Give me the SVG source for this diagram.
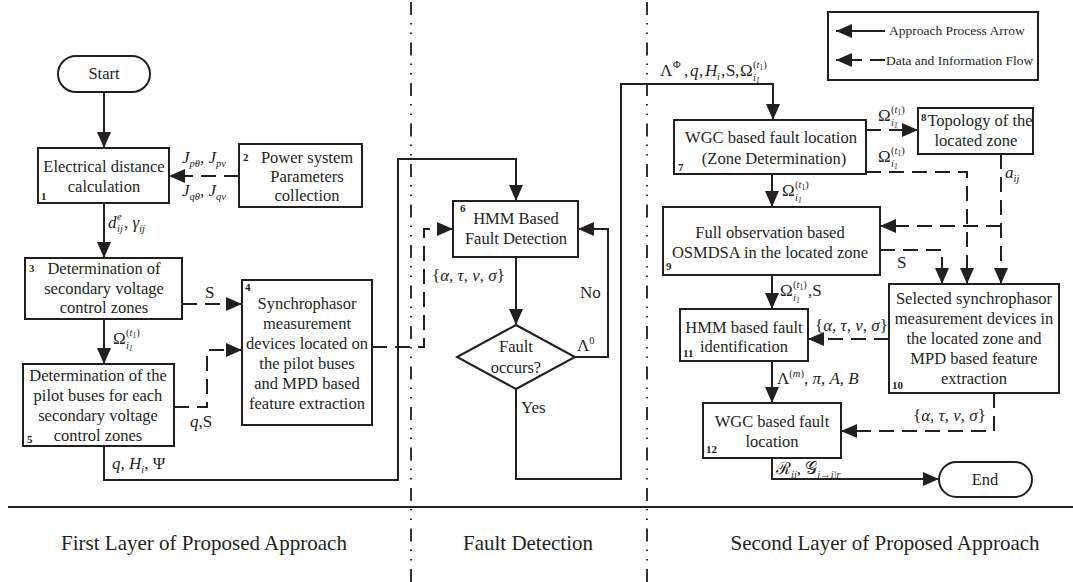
<svg xmlns="http://www.w3.org/2000/svg" width="1073" height="582" viewBox="0 0 1073 582">
<defs>
<style>
.bx{fill:#fff;stroke:#231f20;stroke-width:2}
.ln{fill:none;stroke:#231f20;stroke-width:2}
.ar{marker-end:url(#ah)}
.da{stroke-dasharray:15 8}
.dd{fill:none;stroke:#231f20;stroke-width:1.8;stroke-dasharray:13 8 1.5 8 1.5 8.5;stroke-dashoffset:-2}
text{font-family:"Liberation Serif","Times New Roman",serif;fill:#231f20}
.t{font-size:16.5px;text-anchor:middle}
.m{font-size:17px}
.i{font-style:italic}
.s{font-size:10.5px}
.xs{font-size:7.5px}
.n{font-size:11px;font-weight:bold}
.lg{font-size:13.5px}
.cap{font-size:21px;text-anchor:middle}
</style>
<marker id="ah" markerUnits="userSpaceOnUse" markerWidth="16" markerHeight="14" refX="16" refY="7" orient="auto"><path d="M0,0 L16,7 L0,14 z" fill="#231f20"/></marker>
</defs>
<rect width="1073" height="582" fill="#fff"/>

<g id="layout">
<line class="dd" x1="411" y1="0" x2="411" y2="582"/>
<line class="dd" x1="647" y1="0" x2="647" y2="582"/>
<line class="ln" x1="8" y1="507" x2="1073" y2="507"/>
<text class="cap" x="204" y="550">First Layer of Proposed Approach</text>
<text class="cap" x="528" y="550">Fault Detection</text>
<text class="cap" x="885" y="550">Second Layer of Proposed Approach</text>
</g>

<g id="legend">
<rect class="bx" x="828" y="12" width="210" height="68"/>
<path class="ln ar" d="M885,31 H836"/>
<path class="ln da ar" d="M885,60 H836"/>
<text class="lg" x="889" y="35">Approach Process Arrow</text>
<text class="lg" x="886" y="65">Data and Information Flow</text>
</g>

<g id="connectors">
<path class="ln ar" d="M104,92 V148"/>
<path class="ln da ar" d="M239,176 H169"/>
<path class="ln ar" d="M104,203 V258"/>
<path class="ln da ar" d="M182,304 H242"/>
<path class="ln ar" d="M104,319 V364"/>
<path class="ln da ar" d="M174,407 H207 V350 H242"/>
<path class="ln ar" d="M104,446 V480 H398 V159 H516 V201"/>
<path class="ln da ar" d="M372,347 H424 V229 H453"/>
<path class="ln ar" d="M516,257 V325"/>
<path class="ln ar" d="M575,357 H608 V229 H578"/>
<path class="ln ar" d="M516,389 V479 H621 V84 H773 V120"/>
<path class="ln da ar" d="M866,130 H918"/>
<path class="ln da ar" d="M866,172 H967 V284"/>
<path class="ln da ar" d="M1001,154 V284"/>
<path class="ln ar" d="M772,174 V207"/>
<path class="ln da ar" d="M1001,226 H880"/>
<path class="ln da ar" d="M880,250 H942 V284"/>
<path class="ln ar" d="M772,275 V309"/>
<path class="ln da ar" d="M889,339 H808"/>
<path class="ln ar" d="M772,361 V403"/>
<path class="ln da ar" d="M994,393 V431 H841"/>
<path class="ln ar" d="M772,458 V479 H939"/>
</g>

<g id="connector-labels">
<text class="m" x="182" y="163"><tspan class="i">J</tspan><tspan class="s i" dy="4">pθ</tspan><tspan dy="-4">, </tspan><tspan class="i">J</tspan><tspan class="s i" dy="4">pv</tspan></text>
<text class="m" x="182" y="196"><tspan class="i">J</tspan><tspan class="s i" dy="4">qθ</tspan><tspan dy="-4">, </tspan><tspan class="i">J</tspan><tspan class="s i" dy="4">qv</tspan></text>
<text class="m" x="108" y="228"><tspan class="i">d</tspan><tspan class="s i" x="117" y="220">e</tspan><tspan class="s i" x="117" y="232">ij</tspan><tspan x="124" y="228">, </tspan><tspan class="i">γ</tspan><tspan class="s i" dy="4">ij</tspan></text>
<text class="m" x="205" y="298">S</text>
<text class="m" x="113" y="344">Ω<tspan class="s" x="126" y="336">(<tspan class="i">t</tspan><tspan class="xs" dy="2">1</tspan><tspan dy="-2">)</tspan></tspan><tspan class="s i" x="126" y="349">i<tspan class="xs" dy="2">1</tspan></tspan></text>
<text class="m" x="190" y="427"><tspan class="i">q</tspan>,S</text>
<text class="m" x="112" y="469"><tspan class="i">q</tspan>, <tspan class="i">H</tspan><tspan class="s i" dy="4">i</tspan><tspan dy="-4">, Ψ</tspan></text>
<text class="m" x="432" y="281">{<tspan class="i">α</tspan>, <tspan class="i">τ</tspan>, <tspan class="i">ν</tspan>, <tspan class="i">σ</tspan>}</text>
<text class="m" x="580" y="298">No</text>
<text class="m" x="577" y="351">Λ<tspan class="s" dy="-7">0</tspan></text>
<text class="m" x="521" y="413">Yes</text>
<text class="m" x="660" y="76">Λ<tspan class="s" x="673" y="68">Φ</tspan><tspan x="684" y="76">,</tspan><tspan class="i" x="690" y="76">q</tspan><tspan x="699" y="76">,</tspan><tspan class="i" x="705" y="76">H</tspan><tspan class="s i" x="717" y="80">i</tspan><tspan x="721" y="76">,</tspan><tspan x="726" y="76">S</tspan><tspan x="735" y="76">,</tspan><tspan x="740" y="76">Ω</tspan><tspan class="s" x="753" y="68">(<tspan class="i">t</tspan><tspan class="xs" dy="2">1</tspan><tspan dy="-2">)</tspan></tspan><tspan class="s i" x="753" y="81">i<tspan class="xs" dy="2">1</tspan></tspan></text>
<text class="m" x="878" y="121">Ω<tspan class="s" x="891" y="113">(<tspan class="i">t</tspan><tspan class="xs" dy="2">1</tspan><tspan dy="-2">)</tspan></tspan><tspan class="s i" x="891" y="126">i<tspan class="xs" dy="2">1</tspan></tspan></text>
<text class="m" x="878" y="162">Ω<tspan class="s" x="891" y="154">(<tspan class="i">t</tspan><tspan class="xs" dy="2">1</tspan><tspan dy="-2">)</tspan></tspan><tspan class="s i" x="891" y="167">i<tspan class="xs" dy="2">1</tspan></tspan></text>
<text class="m" x="1005" y="178"><tspan class="i">a</tspan><tspan class="s i" dy="4">ij</tspan></text>
<text class="m" x="782" y="196">Ω<tspan class="s" x="795" y="188">(<tspan class="i">t</tspan><tspan class="xs" dy="2">1</tspan><tspan dy="-2">)</tspan></tspan><tspan class="s i" x="795" y="201">i<tspan class="xs" dy="2">1</tspan></tspan></text>
<text class="m" x="897" y="268">S</text>
<text class="m" x="780" y="296">Ω<tspan class="s" x="793" y="288">(<tspan class="i">t</tspan><tspan class="xs" dy="2">1</tspan><tspan dy="-2">)</tspan></tspan><tspan class="s i" x="793" y="301">i<tspan class="xs" dy="2">1</tspan></tspan><tspan x="808" y="296">,S</tspan></text>
<text class="m" x="815" y="331">{<tspan class="i">α</tspan>, <tspan class="i">τ</tspan>, <tspan class="i">ν</tspan>, <tspan class="i">σ</tspan>}</text>
<text class="m" x="777" y="384">Λ<tspan class="s" dy="-7">(<tspan class="i">m</tspan>)</tspan><tspan dy="7">, </tspan><tspan class="i">π</tspan>, <tspan class="i">A</tspan>, <tspan class="i">B</tspan></text>
<text class="m" x="913" y="421">{<tspan class="i">α</tspan>, <tspan class="i">τ</tspan>, <tspan class="i">ν</tspan>, <tspan class="i">σ</tspan>}</text>
<text class="m" x="776" y="474">ℛ<tspan class="s i" dy="4">ij</tspan><tspan dy="-4">, 𝒢</tspan><tspan class="s i" dy="4">j→i|r</tspan></text>
</g>

<g id="start">
<rect class="bx" x="58" y="56" width="92" height="36" rx="18"/>
<text class="t" x="104" y="79">Start</text>
</g>
<g id="node1">
<rect class="bx" x="38" y="148" width="131" height="55"/>
<text class="t" x="104" y="172">Electrical distance</text>
<text class="t" x="104" y="192">calculation</text>
<text class="n" x="41" y="200">1</text>
</g>
<g id="node2">
<rect class="bx" x="239" y="144" width="123" height="63"/>
<text class="n" x="243" y="161">2</text>
<text class="t" x="307" y="163">Power system</text>
<text class="t" x="307" y="182">Parameters</text>
<text class="t" x="307" y="201">collection</text>
</g>
<g id="node3">
<rect class="bx" x="25" y="258" width="157" height="61"/>
<text class="n" x="29" y="272">3</text>
<text class="t" x="104" y="274">Determination of</text>
<text class="t" x="104" y="294">secondary voltage</text>
<text class="t" x="104" y="313">control zones</text>
</g>
<g id="node4">
<rect class="bx" x="242" y="280" width="130" height="145"/>
<text class="n" x="245" y="291">4</text>
<text class="t" x="307" y="309">Synchrophasor</text>
<text class="t" x="307" y="329">measurement</text>
<text class="t" x="307" y="349">devices located on</text>
<text class="t" x="307" y="369">the pilot buses</text>
<text class="t" x="307" y="389">and MPD based</text>
<text class="t" x="307" y="409">feature extraction</text>
</g>
<g id="node5">
<rect class="bx" x="23" y="364" width="151" height="82"/>
<text class="t" x="98" y="381">Determination of the</text>
<text class="t" x="98" y="401">pilot buses for each</text>
<text class="t" x="98" y="421">secondary voltage</text>
<text class="t" x="98" y="441">control zones</text>
<text class="n" x="27" y="443">5</text>
</g>
<g id="node6">
<rect class="bx" x="453" y="201" width="125" height="56"/>
<text class="n" x="460" y="212">6</text>
<text class="t" x="516" y="224">HMM Based</text>
<text class="t" x="516" y="244">Fault Detection</text>
</g>
<g id="decision">
<polygon class="bx" points="516,325 575,357 516,389 457,357"/>
<text class="t" x="516" y="352">Fault</text>
<text class="t" x="516" y="373">occurs?</text>
</g>
<g id="node7">
<rect class="bx" x="674" y="120" width="192" height="54"/>
<text class="t" x="771" y="143">WGC based fault location</text>
<text class="t" x="774" y="164">(Zone Determination)</text>
<text class="n" x="678" y="171">7</text>
</g>
<g id="node8">
<rect class="bx" x="918" y="108" width="115" height="46"/>
<text class="n" x="921" y="121">8</text>
<text class="t" x="980" y="126">Topology of the</text>
<text class="t" x="976" y="146">located zone</text>
</g>
<g id="node9">
<rect class="bx" x="663" y="207" width="217" height="68"/>
<text class="t" x="770" y="238">Full observation based</text>
<text class="t" x="770" y="258">OSMDSA in the located zone</text>
<text class="n" x="666" y="270">9</text>
</g>
<g id="node10">
<rect class="bx" x="889" y="284" width="170" height="109"/>
<text class="t" x="974" y="304">Selected synchrophasor</text>
<text class="t" x="974" y="324">measurement devices in</text>
<text class="t" x="974" y="344">the located zone and</text>
<text class="t" x="974" y="364">MPD based feature</text>
<text class="t" x="974" y="384">extraction</text>
<text class="n" x="892" y="389">10</text>
</g>
<g id="node11">
<rect class="bx" x="680" y="309" width="128" height="52"/>
<text class="t" x="744" y="333">HMM based fault</text>
<text class="t" x="744" y="352">identification</text>
<text class="n" x="683" y="357">11</text>
</g>
<g id="node12">
<rect class="bx" x="703" y="403" width="138" height="55"/>
<text class="t" x="772" y="427">WGC based fault</text>
<text class="t" x="772" y="447">location</text>
<text class="n" x="706" y="453">12</text>
</g>
<g id="end">
<rect class="bx" x="939" y="462" width="93" height="35" rx="17.5"/>
<text class="t" x="985" y="485">End</text>
</g>
</svg>
